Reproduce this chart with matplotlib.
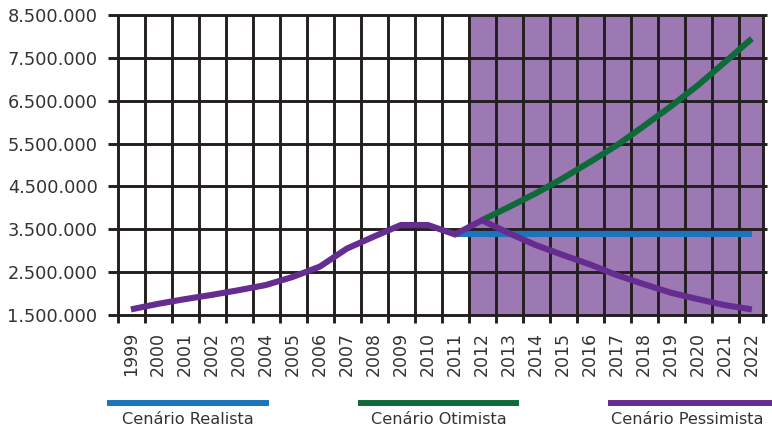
import matplotlib
matplotlib.use("Agg")
import matplotlib.pyplot as plt
from matplotlib.lines import Line2D

# Anos do eixo horizontal
anos = list(range(1999, 2023))

# Série histórica seguida do cenário pessimista (1999-2022)
pessimista = [1630000, 1760000, 1870000, 1970000, 2080000, 2200000, 2390000,
              2630000, 3050000, 3330000, 3600000, 3600000, 3380000, 3710000,
              3410000, 3130000, 2900000, 2680000, 2430000, 2220000, 2020000,
              1870000, 1730000, 1630000]

# Cenário realista (2011-2022)
anos_realista = list(range(2011, 2023))
realista = [3380000] * len(anos_realista)

# Cenário otimista (2012-2022)
anos_otimista = list(range(2012, 2023))
otimista = [3710000, 4020000, 4340000, 4690000, 5070000, 5460000, 5910000,
            6370000, 6860000, 7400000, 7950000]

yticks = [1500000, 2500000, 3500000, 4500000, 5500000, 6500000, 7500000, 8500000]
ytick_labels = ["1.500.000", "2.500.000", "3.500.000", "4.500.000",
                "5.500.000", "6.500.000", "7.500.000", "8.500.000"]

legend_labels = ["Cenário Realista", "Cenário Otimista", "Cenário Pessimista"]

c_grid = "#231f20"
c_shade = "#9d79b4"
c_purple = "#662d91"
c_green = "#0e6b39"
c_blue = "#1b75bc"
c_text = "#333333"

W, H = 772, 429
fig = plt.figure(figsize=(W / 100, H / 100), dpi=100)

def fx(px):
    return px / W

def fy(py):
    return (H - py) / H

ax = fig.add_axes([fx(108), fy(323), fx(767) - fx(108), fy(15) - fy(323)])
ax.set_xlim(1998.15, 2022.56)
ax.set_ylim(1313300, 8500000)
for s in ax.spines.values():
    s.set_visible(False)

# Área de projeção
proj_start = 2011.47
proj_end = 2022.42
ax.axvspan(proj_start, proj_end, ymin=(1500000 - 1313300) / (8500000 - 1313300),
           ymax=1, color=c_shade, lw=0, zorder=0)

# Grade
grid_lw = 2.1
ax.hlines(yticks, 1998.15, 2022.56, color=c_grid, lw=grid_lw, zorder=1, clip_on=False)
vx = [a - 0.47 for a in anos] + [proj_end]
ax.vlines(vx, 1313300, 8500000, color=c_grid, lw=grid_lw, zorder=1, clip_on=False)

# Séries
lw = 4.4
ax.plot(anos_realista, realista, color=c_blue, lw=lw, solid_capstyle="butt", zorder=3)
ax.plot(anos_otimista, otimista, color=c_green, lw=lw, solid_capstyle="butt", zorder=3)
ax.plot(anos, pessimista, color=c_purple, lw=lw, solid_capstyle="butt",
        solid_joinstyle="miter", zorder=4)

ax.set_yticks(yticks)
ax.set_yticklabels(ytick_labels)
ax.set_xticks(anos)
ax.set_xticklabels([str(a) for a in anos], rotation=90)
ax.tick_params(axis="y", length=0, pad=7.5, labelsize=12.8, labelcolor=c_text)
ax.tick_params(axis="x", length=0, pad=6.5, labelsize=12.5, labelcolor=c_text)

# Legenda
legend_items = [(107, 269, c_blue), (358, 519, c_green), (608, 772, c_purple)]
for (x0, x1, col), lab in zip(legend_items, legend_labels):
    fig.add_artist(Line2D([fx(x0), fx(x1)], [fy(403), fy(403)], color=col, lw=4.3,
                          solid_capstyle="butt", transform=fig.transFigure))
    fig.text(fx((x0 + min(x1, 766)) / 2), fy(420), lab, ha="center", va="center",
             fontsize=11.6, color=c_text)

fig.savefig("out.png", dpi=100)
